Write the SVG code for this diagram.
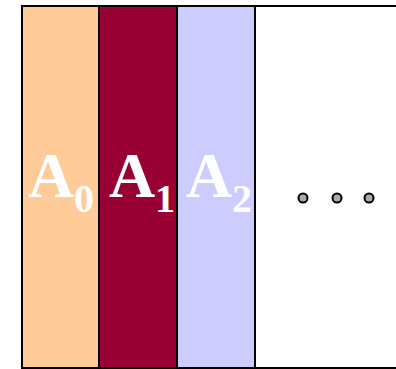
<svg xmlns="http://www.w3.org/2000/svg" width="396" height="369" viewBox="0 0 396 369">
<style>
.col{stroke:#000;stroke-width:2}
.lbl{font-family:"Liberation Serif",serif;font-weight:bold;fill:#fff}
.big{font-size:64px}
.sub{font-size:40px}
.dot{fill:#aaa;stroke:#000;stroke-width:2}
</style>
<rect width="396" height="369" fill="#fff"/>
<g id="frame"><path d="M22,6 H396 M22,368 H396" stroke="#000" stroke-width="2" fill="none"/></g>
<g id="A0"><rect class="col" x="22" y="6" width="77" height="362" fill="#ffcc99"/>
<text class="lbl big" x="28" y="197">A</text><text class="lbl sub" x="74" y="212">0</text></g>
<g id="A1"><rect class="col" x="99" y="6" width="78" height="362" fill="#990033"/>
<text class="lbl big" x="109" y="197">A</text><text class="lbl sub" x="155" y="212">1</text></g>
<g id="A2"><rect class="col" x="177" y="6" width="78" height="362" fill="#ccccff"/>
<text class="lbl big" x="186" y="197">A</text><text class="lbl sub" x="232" y="212">2</text></g>
<g id="dots"><circle class="dot" cx="303" cy="198" r="4.5"/><circle class="dot" cx="337" cy="198" r="4.5"/><circle class="dot" cx="369" cy="198" r="4.5"/></g>
</svg>
